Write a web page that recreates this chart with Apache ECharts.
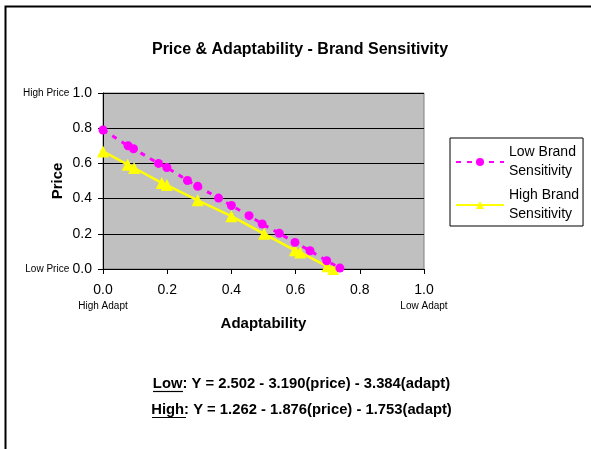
<!DOCTYPE html>
<html>
<head>
<meta charset="utf-8">
<script src="https://cdn.jsdelivr.net/npm/echarts@6/dist/echarts.min.js"></script>
<style>
  html, body { margin: 0; padding: 0; background: #fff; }
  #chart { width: 591px; height: 449px; }
</style>
</head>
<body>
<div id="chart"></div>
<script>
// 数据：点
const lowX = [0.0, 0.078, 0.095, 0.173, 0.199, 0.263, 0.295, 0.36, 0.40, 0.455, 0.496, 0.549, 0.598, 0.645, 0.697, 0.738];
const lowY = [0.79, 0.70, 0.683, 0.60, 0.577, 0.503, 0.47, 0.403, 0.361, 0.303, 0.256, 0.203, 0.151, 0.104, 0.047, 0.005];
const highX = [0.0, 0.077, 0.097, 0.183, 0.199, 0.295, 0.40, 0.502, 0.598, 0.614, 0.699, 0.717];
const highY = [0.668, 0.593, 0.574, 0.489, 0.477, 0.39, 0.30, 0.20, 0.106, 0.094, 0.015, 0.0];
const seriesNames = ['Low Brand\nSensitivity', 'High Brand\nSensitivity'];
const equations = [
  ['Low', ': Y = 2.502 - 3.190(price) - 3.384(adapt)'],
  ['High', ': Y = 1.262 - 1.876(price) - 1.753(adapt)']
];

const FONT = '"Liberation Sans", Arial, sans-serif';
const chart = echarts.init(document.getElementById('chart'));

// 公式文字（下划线单独画）
function eqText(eq, y) {
  return {
    type: 'text',
    x: 301.5, y: y,
    style: {
      text: eq[0] + eq[1],
      textAlign: 'center', textVerticalAlign: 'middle',
      fontSize: 14.8, fontWeight: 'bold', fontFamily: FONT, fill: '#000'
    }
  };
}

const option = {
  animation: false,
  backgroundColor: '#fff',
  textStyle: { fontFamily: FONT },
  title: {
    text: 'Price & Adaptability - Brand Sensitivity',
    left: 295,
    textAlign: 'center',
    top: 37,
    textStyle: { fontSize: 16, fontWeight: 'bold', color: '#000', fontFamily: FONT }
  },
  legend: {
    left: 450,
    top: 138,
    orient: 'vertical',
    padding: [5, 4, 2, 5],
    borderColor: '#000',
    borderWidth: 1,
    itemWidth: 48,
    itemHeight: 10,
    itemGap: 5,
    textStyle: { fontSize: 14, lineHeight: 19, color: '#000', fontFamily: FONT },
    data: seriesNames
  },
  grid: {
    left: 103, top: 93, width: 321, height: 176,
    show: true,
    backgroundColor: '#C0C0C0',
    borderColor: '#808080',
    borderWidth: 1
  },
  xAxis: {
    type: 'value',
    min: 0, max: 1, interval: 0.2,
    name: 'Adaptability',
    nameLocation: 'middle',
    nameGap: 47,
    nameMoveOverlap: false,
    nameTextStyle: { fontSize: 15, fontWeight: 'bold', color: '#000' },
    axisLine: { show: true, onZero: false, lineStyle: { color: '#000', width: 1 } },
    axisTick: { show: true, length: 5, lineStyle: { color: '#000' } },
    splitLine: { show: false },
    axisLabel: {
      margin: 11,
      color: '#000',
      formatter: function (v) {
        const s = v.toFixed(1);
        if (v === 0) return '{v|' + s + '}\n{s|High Adapt}';
        if (v === 1) return '{v|' + s + '}\n{s|Low Adapt}';
        return '{v|' + s + '}\n{s| }';
      },
      rich: {
        v: { fontSize: 14, lineHeight: 20, color: '#000' },
        s: { fontSize: 10, lineHeight: 13, color: '#000' }
      }
    }
  },
  yAxis: {
    type: 'value',
    min: 0, max: 1, interval: 0.2,
    name: 'Price',
    nameLocation: 'middle',
    nameGap: 38,
    nameMoveOverlap: false,
    nameTextStyle: { fontSize: 15, fontWeight: 'bold', color: '#000' },
    axisLine: { show: true, lineStyle: { color: '#000', width: 1 } },
    axisTick: { show: true, length: 5, lineStyle: { color: '#000' } },
    splitLine: { show: true, lineStyle: { color: '#000', width: 1 } },
    axisLabel: {
      margin: 11,
      color: '#000',
      formatter: function (v) {
        const s = v.toFixed(1);
        if (v === 1) return '{s|High Price} {v|' + s + '}';
        if (v === 0) return '{s|Low Price} {v|' + s + '}';
        return '{v|' + s + '}';
      },
      rich: {
        v: { fontSize: 14, color: '#000' },
        s: { fontSize: 10, color: '#000' }
      }
    }
  },
  series: [
    {
      name: seriesNames[0],
      type: 'line',
      data: lowX.map((x, i) => [x, lowY[i]]),
      symbol: 'circle',
      symbolSize: 9,
      itemStyle: { color: '#FF00FF' },
      lineStyle: { color: '#FF00FF', width: 3, type: [5, 6] },
      z: 3
    },
    {
      name: seriesNames[1],
      type: 'line',
      data: highX.map((x, i) => [x, highY[i]]),
      symbol: 'triangle',
      symbolSize: 12,
      itemStyle: { color: '#FFFF00' },
      lineStyle: { color: '#FFFF00', width: 2.5 },
      z: 2
    }
  ],
  graphic: [
    {
      type: 'rect',
      shape: { x: 5.5, y: 6.5, width: 700, height: 600 },
      style: { fill: null, stroke: '#000', lineWidth: 2 },
      silent: true
    },
    eqText(equations[0], 384),
    eqText(equations[1], 410),
    {
      type: 'line',
      shape: { x1: 153, y1: 391.5, x2: 183, y2: 391.5 },
      style: { stroke: '#000', lineWidth: 1.2 }
    },
    {
      type: 'line',
      shape: { x1: 152, y1: 417.5, x2: 186, y2: 417.5 },
      style: { stroke: '#000', lineWidth: 1.2 }
    }
  ]
};

chart.setOption(option);
</script>
</body>
</html>
